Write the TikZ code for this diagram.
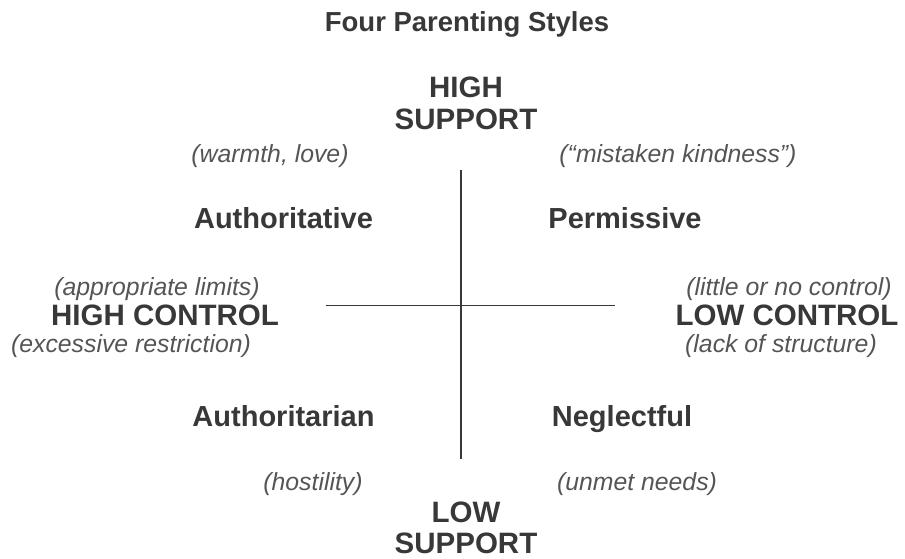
\documentclass[tikz,border=0pt]{standalone}
\usepackage{fontspec}
\setmainfont{Liberation Sans}
\usepackage{xcolor}
\usepackage{tikz}
\usetikzlibrary{positioning}

\definecolor{inkdark}{HTML}{383838}
\definecolor{inkgray}{HTML}{555555}

\begin{document}
\begin{tikzpicture}[x=1pt, y=-1pt,
  axis/.style={line width=1.6pt, draw=inkdark},
  heading/.style={font=\fontsize{27.5}{30}\selectfont\bfseries, text=inkdark, inner sep=0pt, anchor=base},
  pole/.style={font=\fontsize{29.5}{32}\selectfont\bfseries, text=inkdark, inner sep=0pt, anchor=base},
  quadrant/.style={font=\fontsize{29}{30}\selectfont\bfseries, text=inkdark, inner sep=0pt, anchor=base},
  note/.style={font=\fontsize{24.8}{28}\selectfont\itshape, text=inkgray, inner sep=0pt, anchor=base}]
  \useasboundingbox (0,0) rectangle (905,559);

  % Title
  \node[heading] (title) at (467, 32) {Four Parenting Styles};

  % Axes
  \coordinate (top) at (461, 170);
  \coordinate (bottom) at (461, 459);
  \coordinate (left) at (326, 305.5);
  \coordinate (right) at (615, 305.5);
  \draw[axis] (top) -- (bottom);
  \draw[axis] (left) -- (right);

  % Support (vertical axis)
  \node[pole] (highsup) at (466, 98) {HIGH};
  \node[pole] (highsup2) at (466, 130) {SUPPORT};
  \node[pole] (lowsup) at (466, 522) {LOW};
  \node[pole] (lowsup2) at (466, 553) {SUPPORT};

  % Control (horizontal axis)
  \node[pole] (highctl) at (165, 325) {HIGH CONTROL};
  \node[pole] (lowctl) at (787, 325) {LOW CONTROL};
  \node[note] (apprlim) at (157, 295) {(appropriate limits)};
  \node[note] (excess) at (131, 352) {(excessive restriction)};
  \node[note] (littlectl) at (789, 295) {(little or no control)};
  \node[note] (nostruct) at (781, 352) {(lack of structure)};

  % Quadrants
  \node[quadrant] (authtive) at (283.5, 228) {Authoritative};
  \node[quadrant] (permis) at (625, 228) {Permissive};
  \node[quadrant] (authrian) at (283.5, 426) {Authoritarian};
  \node[quadrant] (neglect) at (622, 426) {Neglectful};

  % Notes on support
  \node[note] (warmth) at (270, 162) {(warmth, love)};
  \node[note] (kindness) at (678, 162) {(``mistaken kindness'')};
  \node[note] (hostile) at (313, 490) {(hostility)};
  \node[note] (unmet) at (637, 490) {(unmet needs)};

\end{tikzpicture}
\end{document}
